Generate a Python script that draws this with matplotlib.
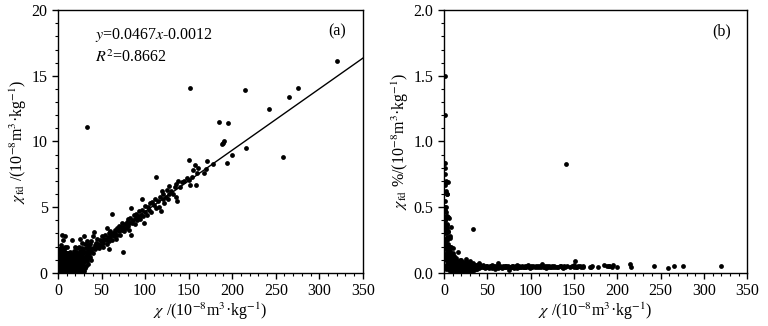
import numpy as np
import matplotlib.pyplot as plt
from matplotlib.ticker import MultipleLocator

plt.rcParams['font.family'] = ['Liberation Serif', 'DejaVu Serif']
plt.rcParams['mathtext.fontset'] = 'stix'
plt.rcParams['font.size'] = 11.5

# chi (10^-8 m3/kg) and chi_fd
chi = [
    # low-chi column
    1.2, 1.5, 0.6, 1.2, 1.0, 1.5, 2.0, 1.8, 2.5, 3.0, 1.0, 2.0, 1.5, 2.5, 3.0, 0.8, 1.2,
    2.0, 3.5, 1.5, 2.5, 4.0, 3.0, 1.0, 2.0, 4.5, 3.5, 1.5, 5.0, 2.5, 4.0, 3.0, 1.0, 2.0,
    5.0, 3.5, 4.5, 4.5, 5.0, 0.5, 3.5,
    # chi 5-10
    5.5, 5.5, 5.5, 6, 6, 6, 6.5, 7, 7, 7, 7.5, 7.5, 8, 8, 8, 8.5, 8.5, 9, 9, 9.5, 9.5,
    10, 10, 8, 6, 4.2,
    # chi 10-20
    11, 11, 11, 12, 12, 12, 13, 13, 13, 14, 14, 14, 15, 15, 15, 16, 16, 16, 16, 17, 17,
    17, 18, 18, 18, 19, 19, 19, 20, 20, 20, 10.5,
    # chi 20-30
    21, 21, 21, 22, 22, 22, 23, 23, 23, 24, 24, 24, 24, 25, 25, 25, 25, 26, 26, 26, 27,
    27, 27, 28, 28, 28, 28, 29, 29, 29, 30, 30, 30, 31, 31, 31,
    # chi 30-40
    32, 32, 32, 33, 33, 33, 34, 34, 35, 35, 36, 37, 37, 38,
    # main trend
    35, 36, 38, 38, 40, 40, 40, 41, 42, 43, 44, 45, 45, 46, 47, 48, 49, 50, 50, 52, 52,
    53, 54, 55, 56, 56, 57, 58, 58, 59, 60, 60, 61, 62, 62, 63, 64, 65, 66, 67, 68, 68,
    70, 70, 71, 72, 73, 74, 75, 75, 76, 77, 78, 79, 80, 80, 81, 82, 83, 84, 84, 85, 86,
    87, 88, 89, 90, 91, 92, 93, 94, 95, 96, 97, 98, 99, 100, 100, 102, 103, 105, 106,
    107, 108, 110, 111, 112, 113, 115, 116, 117, 118, 119, 120, 121, 122, 124, 125, 126,
    127, 128, 130, 132, 134, 135, 136, 137, 138, 140, 142, 145, 148, 150, 150, 151, 152,
    154, 155, 157, 158, 160, 161, 168, 170, 171, 178, 185, 188, 190, 191, 194, 195, 200,
    215, 216, 242, 258, 265, 276, 320, 33,
]
chi_fd = [
    1.8, 1.8, 0.5, 1.0, 0.8, 1.13, 1.4, 1.2, 1.55, 1.8, 0.55, 1.0, 0.72, 1.15, 1.3, 0.32,
    0.45, 0.7, 1.2, 0.48, 0.75, 1.1, 0.75, 0.22, 0.4, 0.9, 0.6, 0.22, 0.7, 0.3, 0.4, 0.2,
    0.05, 0.06, 0.2, 0.9, 1.4, 0.5, 1.1, 0.2, 2.1,
    0.4, 1.0, 1.5, 0.15, 0.7, 1.2, 1.8, 0.3, 0.9, 1.4, 0.55, 2.0, 0.1, 1.1, 1.6, 0.4, 0.8,
    1.3, 0.2, 0.6, 1.0, 1.5, 0.35, 2.8, 2.5, 2.9,
    0.15, 0.7, 1.2, 0.45, 0.95, 1.5, 0.2, 0.75, 1.25, 0.5, 1.0, 1.6, 0.1, 0.8, 1.3, 0.35,
    0.6, 1.1, 2.5, 0.2, 0.9, 1.45, 0.5, 1.2, 1.7, 0.15, 0.75, 1.0, 0.4, 1.35, 2.0, 2.0,
    0.2, 0.8, 1.6, 0.55, 1.1, 1.9, 0.3, 0.9, 1.4, 0.1, 0.65, 1.2, 2.0, 0.45, 1.0, 1.7,
    2.6, 0.25, 0.8, 1.4, 0.6, 1.1, 1.9, 0.2, 0.9, 1.5, 2.3, 0.5, 1.2, 1.8, 0.15, 0.8, 2.8,
    1.0, 1.6, 2.2,
    0.5, 1.3, 1.9, 0.9, 1.5, 2.4, 1.1, 1.8, 0.7, 2.1, 1.4, 1.2, 2.2, 1.0,
    1.4, 2.0, 1.7, 2.4, 1.9, 1.5, 2.8, 3.1, 2.1, 1.8, 2.3, 2.0, 2.6, 2.2, 1.9, 2.5, 2.1,
    2.4, 2.8, 2.3, 2.0, 2.6, 2.9, 2.5, 2.2, 3.4, 2.7, 2.4, 3.0, 1.8, 2.7, 3.2, 2.9, 2.5,
    4.5, 3.0, 2.8, 3.3, 3.1, 2.6, 3.4, 2.9, 3.2, 3.6, 2.9, 3.5, 3.3, 3.8, 1.6, 3.5, 3.2,
    3.7, 3.4, 3.9, 3.6, 4.1, 3.3, 3.8, 4.2, 2.9, 4.9, 3.8, 4.0, 4.4, 3.7, 4.2, 4.5, 4.0,
    4.3, 4.7, 4.1, 4.4, 4.8, 5.6, 4.3, 3.8, 4.6, 5.1, 4.4, 5.0, 4.8, 5.3, 4.6, 5.4, 5.2,
    5.6, 4.9, 7.3, 5.5, 5.0, 5.8, 4.7, 6.2, 5.6, 6.0, 5.3, 5.8, 6.3, 5.6, 6.6, 6.0, 6.2,
    6.0, 6.5, 6.8, 5.8, 5.5, 7.0, 6.5, 6.9, 7.0, 7.2, 8.6, 7.1, 14.1, 6.7, 7.3, 7.8, 8.2,
    6.7, 7.6, 8.0, 7.6, 7.9, 8.5, 8.3, 11.5, 9.8, 9.9, 10.0, 8.4, 11.4, 9.0, 13.9, 9.5,
    12.5, 8.8, 13.4, 14.1, 16.1, 11.1,
]

# extra samples filling the dense cluster near the origin
chi_more = [
    0.5, 0.8, 1.0, 1.5, 2.0, 2.5, 3.0, 3.5, 4.0, 4.0, 4.5, 3.0, 2.0, 1.2, 0.8, 2.2, 3.8,
    5.0, 5.0, 12, 14, 18, 22, 26, 20, 23, 27, 16, 12, 10, 13, 15, 19, 21, 25, 28, 29, 24,
    17, 11, 9, 7, 30, 31, 30, 26, 23, 19, 15, 6.5, 8.5, 10, 14, 18, 22, 27, 33, 35, 36,
]
chi_fd_more = [
    0.15, 0.55, 0.4, 0.35, 0.2, 0.5, 0.45, 0.35, 0.7, 1.5, 1.9, 1.1, 0.85, 0.6, 0.2, 0.95,
    1.0, 1.6, 0.45, 0.05, 0.25, 0.05, 0.05, 0.05, 0.7, 0.6, 0.35, 0.85, 0.7, 0.8, 1.0,
    0.55, 0.45, 1.2, 0.7, 0.6, 0.9, 0.35, 0.6, 0.45, 0.45, 0.6, 0.5, 0.4, 1.2, 1.1, 1.15,
    1.3, 1.05, 1.1, 1.2, 1.2, 1.3, 1.4, 1.5, 1.6, 1.2, 1.6, 1.9,
]

# points only in panel (b)
chi_b_extra = [141]
pct_b_extra = [0.83]

slope, intercept = 0.0467, -0.0012

chi = np.array(chi + chi_more)
chi_fd = np.array(chi_fd + chi_fd_more)
pct = chi_fd / chi

fig = plt.figure(figsize=(7.68, 3.26), dpi=100)
ax1 = fig.add_axes([0.0755, 0.163, 0.397, 0.806])
ax2 = fig.add_axes([0.578, 0.163, 0.395, 0.806])

ax1.scatter(chi, chi_fd, s=12, color='black', linewidths=0, zorder=3)
xl = np.array([0, 350])
ax1.plot(xl, slope * xl + intercept, color='black', lw=1)
ax1.text(42, 18.1, r'$y$=0.0467$x$-0.0012', va='center')
ax1.text(42, 16.4, r'$R^2$=0.8662', va='center')
ax1.text(320, 18.4, '(a)', ha='center', va='center')
ax1.set_ylim(0, 20)
ax1.set_ylabel(r'$\chi_{\rm fd}$ /(10$^{-8}$m$^3$·kg$^{-1}$)', labelpad=2)
ax1.yaxis.set_major_locator(MultipleLocator(5))
ax1.yaxis.set_minor_locator(MultipleLocator(1))

ax2.scatter(np.concatenate([chi, chi_b_extra]), np.concatenate([pct, pct_b_extra]),
            s=12, color='black', linewidths=0, zorder=3)
ax2.text(320, 1.84, '(b)', ha='center', va='center')
ax2.set_ylim(0, 2.0)
ax2.set_ylabel(r'$\chi_{\rm fd}$ %/(10$^{-8}$m$^3$·kg$^{-1}$)', labelpad=2)
ax2.yaxis.set_major_locator(MultipleLocator(0.5))
ax2.yaxis.set_minor_locator(MultipleLocator(0.1))
ax2.yaxis.set_major_formatter(plt.FormatStrFormatter('%.1f'))

for ax in (ax1, ax2):
    ax.set_xlim(0, 350)
    ax.xaxis.set_major_locator(MultipleLocator(50))
    ax.xaxis.set_minor_locator(MultipleLocator(10))
    ax.set_xlabel(r'$\chi$ /(10$^{-8}$m$^3$·kg$^{-1}$)', labelpad=1)
    ax.tick_params(which='major', direction='out', length=4, width=1)
    ax.tick_params(which='minor', direction='out', length=2, width=0.8)
    for sp in ax.spines.values():
        sp.set_linewidth(1)

fig.savefig('out.png', dpi=100)
